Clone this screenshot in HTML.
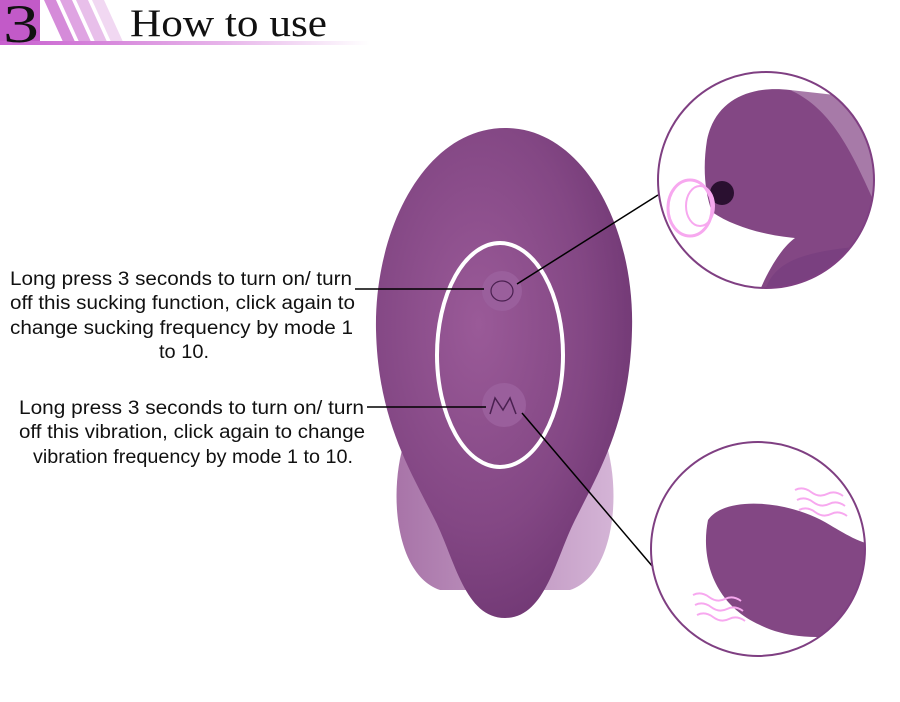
<!DOCTYPE html>
<html><head><meta charset="utf-8"><style>
html,body{margin:0;padding:0;background:#fff;width:900px;height:702px;overflow:hidden}
svg{display:block}
text{font-family:"Liberation Sans",sans-serif;fill:#111}
</style></head><body>
<svg width="900" height="702" viewBox="0 0 900 702" xmlns="http://www.w3.org/2000/svg">
<defs>
<linearGradient id="hb" x1="0" x2="1" y1="0" y2="0">
<stop offset="0" stop-color="#c85fcf"/><stop offset="0.6" stop-color="#e7b4ea"/><stop offset="1" stop-color="#fff"/>
</linearGradient>
<radialGradient id="body" cx="0.4" cy="0.4" r="0.7">
<stop offset="0" stop-color="#9a5a98"/><stop offset="0.6" stop-color="#834784"/><stop offset="1" stop-color="#6c3470"/>
</radialGradient>
<linearGradient id="side" x1="0" x2="1"><stop offset="0" stop-color="#a874a8"/><stop offset="1" stop-color="#d4b4d6"/></linearGradient>
</defs>
<!-- header -->
<rect x="0" y="0" width="40" height="44" fill="#c25ac8"/>
<polygon points="44,0 56,0 76,44 64,44" fill="#d58bd9"/>
<polygon points="60,0 72,0 92,44 80,44" fill="#dfa4e2"/>
<polygon points="76,0 88,0 108,44 96,44" fill="#e8bfea"/>
<polygon points="92,0 104,0 124,44 112,44" fill="#f1d8f2"/>
<rect x="0" y="41" width="370" height="4" fill="url(#hb)"/>
<text x="3" y="42" textLength="36" lengthAdjust="spacingAndGlyphs" style="font-family:'Liberation Serif',serif;font-size:54px;fill:#111">3</text>
<text x="130" y="36" textLength="197" lengthAdjust="spacingAndGlyphs" style="font-family:'Liberation Serif',serif;font-size:39px;fill:#111">How to use</text>

<!-- device lobes -->
<path d="M405,440 C388,490 395,575 440,590 L570,590 C615,575 622,490 605,440 Z" fill="url(#side)"/>
<!-- main body -->
<path d="M505,128 C585,128 635,230 632,330 C630,420 600,470 575,520 C555,560 545,618 505,618 C465,618 455,560 435,520 C410,470 378,420 376,330 C374,230 425,128 505,128 Z" fill="url(#body)"/>
<ellipse cx="500" cy="355" rx="63" ry="112" fill="none" stroke="#fff" stroke-width="4"/>
<circle cx="502" cy="291" r="20" fill="#9a5f9c"/>
<ellipse cx="502" cy="291" rx="11" ry="10" fill="none" stroke="#4a2050" stroke-width="1.2"/>
<circle cx="504" cy="405" r="22" fill="#9a5f9c"/>
<path d="M490,414 L495,398 L503,410 L510,398 L516,414" fill="none" stroke="#4a2050" stroke-width="1.5"/>

<!-- connectors -->
<line x1="355" y1="289" x2="484" y2="289" stroke="#000" stroke-width="1.5"/>
<line x1="517" y1="284" x2="658" y2="195" stroke="#000" stroke-width="1.5"/>
<line x1="367" y1="407" x2="486" y2="407" stroke="#000" stroke-width="1.5"/>
<line x1="522" y1="413" x2="653" y2="567" stroke="#000" stroke-width="1.5"/>

<!-- top circle -->
<clipPath id="c1"><circle cx="766" cy="180" r="108"/></clipPath>
<g clip-path="url(#c1)">
<path d="M707,140 C715,100 750,85 790,90 C840,100 875,150 880,200 L880,290 L760,290 C772,262 785,245 795,238 C770,236 735,228 712,212 C704,190 703,165 707,140 Z" fill="#834784"/>
<path d="M790,90 C835,110 855,160 880,215 L880,100 Z" fill="#a77aa8"/>
<path d="M765,290 C775,262 800,250 880,245 L880,290 Z" fill="#7a4080"/>
<circle cx="722" cy="193" r="12" fill="#2a1030"/>
<ellipse cx="690" cy="208" rx="22" ry="28" fill="none" stroke="#f7a8ef" stroke-width="3"/>
<ellipse cx="700" cy="206" rx="14" ry="20" fill="none" stroke="#f7a8ef" stroke-width="2"/>
</g>
<circle cx="766" cy="180" r="108" fill="none" stroke="#7f3f82" stroke-width="2"/>

<!-- bottom circle -->
<clipPath id="c2"><circle cx="758" cy="549" r="107"/></clipPath>
<g clip-path="url(#c2)">
<path d="M708,520 C725,495 790,500 830,525 C850,537 860,542 870,544 L870,630 C830,640 790,640 760,625 C715,605 700,560 708,520 Z" fill="#834784"/>
</g>
<circle cx="758" cy="549" r="107" fill="none" stroke="#7f3f82" stroke-width="2"/>
<g fill="none" stroke="#f7a8ef" stroke-width="2">
<path d="M795,490 q8,-4 16,2 t16,2 t16,2"/><path d="M797,500 q8,-4 16,2 t16,2 t16,2"/><path d="M799,510 q8,-4 16,2 t16,2 t16,2"/>
<path d="M693,595 q8,-4 16,2 t16,2 t16,2"/><path d="M695,605 q8,-4 16,2 t16,2 t16,2"/><path d="M697,615 q8,-4 16,2 t16,2 t16,2"/>
</g>

<!-- labels -->
<g style="font-size:19px">
<text x="10" y="285" textLength="342" lengthAdjust="spacingAndGlyphs">Long press 3 seconds to turn on/ turn</text>
<text x="10" y="309" textLength="345" lengthAdjust="spacingAndGlyphs">off this sucking function, click again to</text>
<text x="10" y="334" textLength="343" lengthAdjust="spacingAndGlyphs">change sucking frequency by mode 1</text>
<text x="159" y="358" textLength="50" lengthAdjust="spacingAndGlyphs">to 10.</text>
<text x="19" y="414" textLength="345" lengthAdjust="spacingAndGlyphs">Long press 3 seconds to turn on/ turn</text>
<text x="19" y="438" textLength="346" lengthAdjust="spacingAndGlyphs">off this vibration, click again to change</text>
<text x="33" y="463" textLength="320" lengthAdjust="spacingAndGlyphs">vibration frequency by mode 1 to 10.</text>
</g>
</svg>
</body></html>
